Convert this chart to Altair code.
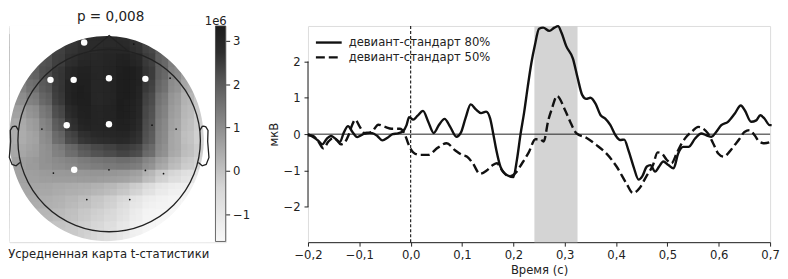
import altair as alt
import pandas as pd
import numpy as np

# ------------------------------------------------------------------ data
series_names = ["девиант-стандарт 80%", "девиант-стандарт 50%"]

solid_t = [-0.200,-0.190,-0.180,-0.172,-0.163,-0.155,-0.147,-0.138,-0.130,-0.122,-0.113,-0.104,-0.095,-0.085,-0.075,-0.065,-0.055,-0.045,-0.035,-0.025,-0.015,-0.008,-0.003,0.005,0.013,0.024,0.034,0.045,0.055,0.066,0.077,0.089,0.098,0.107,0.117,0.127,0.137,0.147,0.155,0.161,0.167,0.175,0.188,0.200,0.207,0.214,0.221,0.228,0.235,0.242,0.250,0.258,0.270,0.280,0.287,0.294,0.303,0.316,0.325,0.334,0.342,0.350,0.360,0.370,0.379,0.389,0.399,0.408,0.416,0.424,0.434,0.444,0.451,0.460,0.467,0.476,0.484,0.492,0.502,0.512,0.521,0.531,0.541,0.554,0.566,0.576,0.586,0.595,0.605,0.618,0.631,0.643,0.651,0.663,0.673,0.681,0.689,0.699,0.703]
solid_v = [0.00,-0.08,-0.18,-0.28,-0.12,-0.05,-0.12,-0.22,0.05,0.22,0.05,-0.08,-0.02,0.04,0.03,-0.05,-0.17,-0.10,0.00,0.02,0.08,0.25,0.47,0.40,0.50,0.64,0.35,0.03,0.25,0.42,0.20,-0.07,0.05,0.45,0.82,0.68,0.58,0.62,0.42,0.00,-0.45,-0.90,-1.13,-1.18,-0.70,0.00,0.60,1.30,1.95,2.45,2.90,2.93,2.84,2.93,2.97,2.78,2.42,2.08,1.56,1.08,0.97,1.00,0.84,0.52,0.43,0.25,-0.03,-0.16,-0.15,-0.44,-0.89,-1.25,-1.16,-0.89,-0.85,-1.03,-0.89,-0.75,-0.85,-0.94,-0.53,-0.35,-0.35,-0.12,0.02,-0.03,-0.07,0.06,0.25,0.34,0.56,0.79,0.65,0.34,0.38,0.52,0.43,0.25,0.25]

dash_t = [-0.200,-0.190,-0.180,-0.170,-0.160,-0.152,-0.144,-0.136,-0.128,-0.121,-0.114,-0.108,-0.099,-0.089,-0.076,-0.063,-0.050,-0.037,-0.021,-0.012,-0.005,0.005,0.017,0.034,0.053,0.070,0.087,0.100,0.110,0.121,0.135,0.148,0.160,0.168,0.178,0.192,0.204,0.217,0.230,0.243,0.252,0.259,0.268,0.275,0.285,0.301,0.312,0.323,0.342,0.362,0.381,0.401,0.420,0.433,0.446,0.459,0.472,0.481,0.489,0.499,0.508,0.518,0.528,0.537,0.547,0.560,0.570,0.579,0.589,0.599,0.610,0.621,0.631,0.641,0.650,0.660,0.670,0.679,0.689,0.702]
dash_v = [-0.03,-0.05,-0.20,-0.39,-0.20,-0.12,-0.16,-0.28,-0.22,-0.03,0.25,0.40,0.20,0.02,0.06,0.26,0.20,0.15,0.15,0.02,-0.25,-0.50,-0.57,-0.57,-0.37,-0.25,-0.45,-0.57,-0.62,-0.80,-1.09,-1.00,-0.85,-0.80,-1.00,-1.16,-1.07,-0.80,-0.50,-0.14,-0.14,-0.20,0.38,0.70,1.05,0.65,0.30,0.02,-0.10,-0.30,-0.53,-0.89,-1.35,-1.62,-1.48,-1.16,-0.85,-0.50,-0.53,-0.71,-0.80,-0.53,-0.25,-0.07,0.06,0.20,0.15,0.02,-0.25,-0.53,-0.62,-0.48,-0.30,-0.12,0.06,0.11,-0.03,-0.21,-0.25,-0.21]

x_ticks = [-0.2, -0.1, 0.0, 0.1, 0.2, 0.3, 0.4, 0.5, 0.6, 0.7]
y_ticks = [-2, -1, 0, 1, 2]
highlight = [0.241, 0.325]          # grey significance window (s)

title_text = "p = 0,008"
caption_text = "Усредненная карта t-статистики"
cbar_ticks = [-1, 0, 1, 2, 3]
cbar_exp = "1e6"
vmin, vmax = -1.63, 3.34

# topomap values (x1e6), rows top -> bottom, columns left -> right
topo_grid = [
    [1.6,1.8,2.0,2.2,2.4,2.6,2.7,2.8,2.8,2.7,2.5,2.2,1.8,1.3,0.8,0.3],
    [1.5,1.7,2.0,2.3,2.5,2.7,2.8,2.8,2.9,2.9,2.6,2.2,1.6,1.1,0.6,0.2],
    [1.3,1.6,1.9,2.2,2.6,2.9,3.0,2.8,3.2,3.3,3.1,2.3,1.4,0.9,0.5,0.1],
    [1.2,1.6,2.0,2.4,2.9,3.2,3.2,2.8,3.2,3.3,3.2,2.4,1.4,0.9,0.4,0.0],
    [0.9,1.2,1.6,2.1,2.9,3.3,3.2,2.7,3.2,3.3,3.1,2.1,1.2,0.6,0.15,-0.2],
    [0.7,1.0,1.4,2.0,2.9,3.3,3.2,2.7,3.2,3.3,3.0,1.8,1.0,0.5,-0.05,-0.35],
    [0.45,0.5,0.9,1.5,2.5,3.2,3.2,2.9,3.2,3.3,2.9,1.7,0.9,0.4,-0.1,-0.4],
    [0.35,0.35,0.8,1.4,2.3,3.0,3.1,2.9,3.1,3.2,2.8,1.6,0.8,0.3,-0.15,-0.45],
    [0.4,0.35,0.6,1.2,1.9,2.4,2.7,2.8,2.9,2.9,2.6,1.6,0.7,0.2,-0.2,-0.5],
    [0.5,0.55,0.75,0.95,1.2,1.5,1.8,2.0,2.2,2.4,2.0,1.3,0.75,0.3,0.0,-0.3],
    [0.65,0.7,0.8,0.95,1.0,1.05,1.1,1.1,1.1,1.1,1.0,0.6,0.2,-0.15,-0.4,-0.6],
    [0.55,0.55,0.6,0.6,0.6,0.6,0.6,0.6,0.55,0.45,0.2,-0.4,-0.9,-1.2,-1.3,-1.4],
    [0.5,0.5,0.48,0.4,0.3,0.25,0.15,0.0,-0.15,-0.5,-1.0,-1.3,-1.45,-1.5,-1.55,-1.6],
    [0.4,0.4,0.35,0.3,0.2,0.05,-0.1,-0.25,-0.55,-0.9,-1.3,-1.5,-1.55,-1.6,-1.6,-1.6],
    [0.2,0.2,0.15,0.1,0.05,-0.1,-0.25,-0.4,-0.7,-1.1,-1.5,-1.6,-1.6,-1.6,-1.6,-1.6],
    [0.0,0.0,-0.05,-0.1,-0.15,-0.2,-0.4,-0.7,-0.95,-1.3,-1.5,-1.6,-1.6,-1.6,-1.6,-1.6],
]

# sensor positions in head units (head radius = 1, nose up)
sig_x = [-0.274,-0.643,-0.389,-0.002,0.397,-0.465,-0.002,-0.383]
sig_y = [1.074,0.665,0.665,0.683,0.676,0.168,0.179,-0.321]
sen_x = [0.270,0.668,-0.737,0.470,0.734,-0.611,-0.002,0.397,0.596,-0.245,0.226]
sen_y = [1.057,0.683,0.125,0.168,0.125,-0.357,-0.321,-0.328,-0.364,-0.647,-0.647]

# head outline (MNE standard, head radius = 1)
nose_x = [-0.2094, 0.0, 0.2094]
nose_y = [0.9778, 1.15, 0.9778]
ear_x = [.497, .510, .518, .5299, .5419, .54, .547, .532, .510, .489]
ear_y = [.0555, .0775, .0783, .0746, .0555, -.0055, -.0932, -.1313, -.1384, -.1199]

# ------------------------------------------------------------------ styling
FONT = "DejaVu Sans"
FS = 11.7
INK = "#222222"
PX = 92.0                       # pixels per head unit
TOPO_W, TOPO_H = 218, 218
LINE_W, LINE_H = 466, 218

stops_t = [0.0, 0.25, 0.5, 0.75, 0.875, 1.0]
stops_c = ["#f8f8f8", "#d6d6d6", "#959595", "#555555", "#2e2e2e", "#1c1c1c"]
CSCALE = alt.Scale(domain=[vmin + s * (vmax - vmin) for s in stops_t],
                   range=stops_c, interpolate="rgb", clamp=True)

TX = alt.Scale(domain=[-1.0924, 1.2772], nice=False, zero=False)
TY = alt.Scale(domain=[-1.1141, 1.2554], nice=False, zero=False)

cell = 13.0 / PX
gx0, gy0 = -1.0489, 1.0924
rows = []
for j, row in enumerate(topo_grid):
    for i, v in enumerate(row):
        cx = gx0 + i * cell
        cy = gy0 - j * cell
        rows.append({"x0": cx - cell / 2, "x1": cx + cell / 2,
                     "y0": cy - cell / 2, "y1": cy + cell / 2,
                     "ex0": cx - cell, "ex1": cx + cell,
                     "ey0": cy - cell, "ey1": cy + cell,
                     "wx0": cx - 1.5 * cell, "wx1": cx + 1.5 * cell,
                     "wy0": cy - 1.5 * cell, "wy1": cy + 1.5 * cell, "v": v})
cells_df = pd.DataFrame(rows)

def tx(f):
    return alt.X(f, type="quantitative", scale=TX, axis=None)

def ty(f):
    return alt.Y(f, type="quantitative", scale=TY, axis=None)

cells = alt.Chart(cells_df).mark_rect(clip=True, strokeWidth=0.7).encode(
    x=tx("x0"), x2="x1", y=ty("y0"), y2="y1",
    fill=alt.Fill("v:Q", scale=CSCALE, legend=None),
    stroke=alt.Stroke("v:Q", scale=CSCALE, legend=None),
)
# soft overlays: each value painted again over wider footprints, semi-transparent
cells_wide = alt.Chart(cells_df).mark_rect(clip=True, opacity=0.16, strokeWidth=0).encode(
    x=tx("wx0"), x2="wx1", y=ty("wy0"), y2="wy1",
    fill=alt.Fill("v:Q", scale=CSCALE, legend=None),
)
cells_soft = alt.Chart(cells_df).mark_rect(clip=True, opacity=0.3, strokeWidth=0).encode(
    x=tx("ex0"), x2="ex1", y=ty("ey0"), y2="ey1",
    fill=alt.Fill("v:Q", scale=CSCALE, legend=None),
)

half = 120.0
rx, ry = 98.0 / half, 103.5 / half
mask_path = (f"M-1,-1H1V1H-1Z M{rx:.4f},0 A{rx:.4f},{ry:.4f} 0 1 0 {-rx:.4f},0 "
             f"A{rx:.4f},{ry:.4f} 0 1 0 {rx:.4f},0 Z")
mask_df = pd.DataFrame({"x": [-0.027], "y": [0.022]})
mask = alt.Chart(mask_df).mark_point(
    shape=mask_path, size=(2 * half) ** 2, filled=True, fill="white",
    opacity=1, strokeWidth=0, clip=True,
).encode(x=tx("x"), y=ty("y"))

head_df = pd.DataFrame({"x": [0.0], "y": [0.0]})
head = alt.Chart(head_df).mark_point(
    shape="circle", size=(2 * PX) ** 2, filled=False, stroke=INK,
    strokeWidth=1.3, opacity=1,
).encode(x=tx("x"), y=ty("y"))

nose_df = pd.DataFrame({"x": nose_x, "y": nose_y, "i": range(3)})
nose = alt.Chart(nose_df).mark_line(color=INK, strokeWidth=1.3).encode(
    x=tx("x"), y=ty("y"), order="i:Q")

ear_rows = []
for side in (-1, 1):
    for k, (exx, eyy) in enumerate(zip(ear_x, ear_y)):
        ear_rows.append({"x": side * exx * 2, "y": eyy * 2, "i": k, "side": side})
ears = alt.Chart(pd.DataFrame(ear_rows)).mark_line(color=INK, strokeWidth=1.3).encode(
    x=tx("x"), y=ty("y"), order="i:Q", detail="side:N")

sens = alt.Chart(pd.DataFrame({"x": sen_x, "y": sen_y})).mark_point(
    filled=True, color="#111111", size=3, opacity=1).encode(x=tx("x"), y=ty("y"))
sig = alt.Chart(pd.DataFrame({"x": sig_x, "y": sig_y})).mark_point(
    filled=True, fill="white", size=42, opacity=1, strokeWidth=0).encode(
    x=tx("x"), y=ty("y"))

title_mark = alt.Chart(pd.DataFrame({"t": [title_text]})).mark_text(
    font=FONT, fontSize=13.7, color=INK, align="center", baseline="alphabetic"
).encode(x=alt.value(102), y=alt.value(-5), text="t:N")
caption_mark = alt.Chart(pd.DataFrame({"t": [caption_text]})).mark_text(
    font=FONT, fontSize=FS, color=INK, align="center", baseline="middle"
).encode(x=alt.value(100), y=alt.value(229.5), text="t:N")

CB_SCALE = alt.Scale(domain=[-1.646, 3.34], nice=False, zero=False)
CB_AXIS = alt.Axis(orient="right", values=cbar_ticks, format="d", domain=False,
                   grid=False, title=None, tickSize=4, labelPadding=3,
                   tickColor=INK, labelColor=INK, labelFontSize=FS, labelFont=FONT)
cb_df = pd.DataFrame({"lo": [vmin], "hi": [vmax]})
grad = alt.Gradient(gradient="linear",
                    stops=[alt.GradientStop(offset=s, color=c) for s, c in zip(stops_t, stops_c)],
                    x1=0, x2=0, y1=1, y2=0)
cb_fill = alt.Chart(cb_df).mark_rect(color=grad).encode(
    x=alt.value(207.7), x2=alt.value(218),
    y=alt.Y("lo:Q", scale=CB_SCALE, axis=CB_AXIS), y2="hi:Q")
cb_frame = alt.Chart(cb_df).mark_rect(filled=False, stroke="#444444", strokeWidth=0.8).encode(
    x=alt.value(207.7), x2=alt.value(218),
    y=alt.Y("lo:Q", scale=CB_SCALE, axis=None), y2="hi:Q")
cb_exp = alt.Chart(pd.DataFrame({"t": [cbar_exp]})).mark_text(
    font=FONT, fontSize=FS, color=INK, align="left", baseline="alphabetic"
).encode(x=alt.value(197), y=alt.value(-1), text="t:N")

left_panel = alt.layer(cells, cells_wide, cells_soft, mask, head, nose, ears, sens, sig,
                       title_mark, caption_mark, cb_fill, cb_frame, cb_exp).resolve_scale(
    y="independent").properties(width=TOPO_W, height=TOPO_H)

# ------------------------------------------------------------------ ERP panel
XS = alt.Scale(domain=[-0.2, 0.7], nice=False, zero=False)
YS = alt.Scale(domain=[-2.97, 2.975], nice=False, zero=False)
XA = alt.Axis(values=x_ticks, labelExpr="replace(format(datum.value, '.1f'), '.', ',')",
              title="Время (с)", grid=False, tickSize=4, labelPadding=3,
              labelFlush=False, domainColor=INK, tickColor=INK, domainWidth=1,
              tickWidth=1, labelColor=INK, titleColor=INK, labelFontSize=FS,
              titleFontSize=FS, titleFontWeight="normal", titlePadding=4,
              labelFont=FONT, titleFont=FONT)
YA = alt.Axis(values=y_ticks, format="d", title="мкВ", grid=False, domain=False,
              tickSize=4, labelPadding=4, tickColor=INK, tickWidth=1,
              labelColor=INK, titleColor=INK, labelFontSize=FS, titleFontSize=FS,
              titleFontWeight="normal", titlePadding=3, labelFont=FONT, titleFont=FONT)

def ex(f):
    return alt.X(f, type="quantitative", scale=XS, axis=XA)

def ey(f):
    return alt.Y(f, type="quantitative", scale=YS, axis=YA)

span = alt.Chart(pd.DataFrame({"a": [highlight[0]], "b": [highlight[1]]})).mark_rect(
    color="#d4d4d4").encode(x=ex("a"), x2="b")
zero_h = alt.Chart(pd.DataFrame({"y": [0]})).mark_rule(color=INK, strokeWidth=1).encode(y=ey("y"))
zero_v = alt.Chart(pd.DataFrame({"x": [0]})).mark_rule(
    color="#111111", strokeWidth=1.1, strokeDash=[3, 2]).encode(x=ex("x"))
spine = alt.Chart(pd.DataFrame({"x": [x_ticks[0]], "lo": [min(y_ticks)], "hi": [max(y_ticks)]})
                  ).mark_rule(color=INK, strokeWidth=1).encode(x=ex("x"), y=ey("lo"), y2="hi")

solid_df = pd.DataFrame({"t": solid_t, "v": solid_v})
dash_df = pd.DataFrame({"t": dash_t, "v": dash_v})
line80 = alt.Chart(solid_df).mark_line(color="#111111", strokeWidth=2.4,
                                       interpolate="monotone").encode(x=ex("t"), y=ey("v"))
line50 = alt.Chart(dash_df).mark_line(color="#111111", strokeWidth=2.4, strokeDash=[9, 4],
                                      interpolate="monotone").encode(x=ex("t"), y=ey("v"))

leg1_df = pd.DataFrame({"name": [series_names[0]]})
leg2_df = pd.DataFrame({"name": [series_names[1]]})
leg1_line = alt.Chart(leg1_df).mark_rule(color="#111111", strokeWidth=2.4).encode(
    x=alt.value(8), x2=alt.value(34), y=alt.value(16.7))
leg2_line = alt.Chart(leg2_df).mark_rule(color="#111111", strokeWidth=2.4, strokeDash=[9, 4]).encode(
    x=alt.value(8), x2=alt.value(34), y=alt.value(31.7))
leg1_txt = alt.Chart(leg1_df).mark_text(font=FONT, fontSize=FS, color=INK, align="left",
                                        baseline="middle").encode(
    x=alt.value(41), y=alt.value(16.2), text="name:N")
leg2_txt = alt.Chart(leg2_df).mark_text(font=FONT, fontSize=FS, color=INK, align="left",
                                        baseline="middle").encode(
    x=alt.value(41), y=alt.value(31.2), text="name:N")

right_panel = alt.layer(span, zero_h, zero_v, spine, line80, line50,
                        leg1_line, leg2_line, leg1_txt, leg2_txt).properties(
    width=LINE_W, height=LINE_H)

chart = alt.hconcat(left_panel, right_panel, spacing=83, bounds="flush").properties(
    padding={"left": -2.5, "top": 0, "right": 0, "bottom": 0}
).configure_view(stroke=None).configure(font=FONT)

chart.save("out.html", embed_options={"renderer": "svg", "actions": False})
